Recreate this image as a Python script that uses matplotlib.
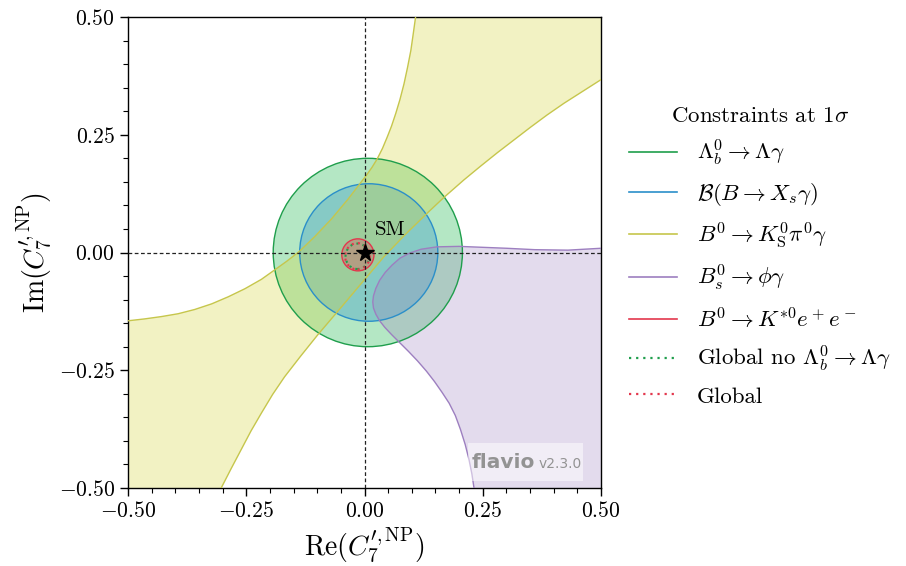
import matplotlib
matplotlib.use("Agg")
import matplotlib.pyplot as plt
from matplotlib.patches import Ellipse, Rectangle
from matplotlib.lines import Line2D
from matplotlib import ticker

plt.rcParams['font.family'] = 'serif'
plt.rcParams['font.serif'] = ['cmr10']
plt.rcParams['mathtext.fontset'] = 'cm'
plt.rcParams['axes.formatter.use_mathtext'] = True

# ---------------- data ----------------
# circular / elliptic 1-sigma regions: (x centre, y centre, x radius, y radius)
lambda_b_region = (0.007, 0.0, 0.200, 0.200)
bxsg_region = (0.009, 0.0, 0.146, 0.146)
bkee_region = (-0.014, -0.005, 0.034, 0.034)
global_nolb_region = (-0.015, -0.008, 0.025, 0.027)
global_region = (-0.015, -0.008, 0.026, 0.028)

# B0 -> KS pi0 gamma : two boundary curves of the band
ks_upper_x = [0.108, 0.103, 0.098, 0.091, 0.0835, 0.075, 0.066, 0.057, 0.048, 0.038, 0.027,
              0.016, 0.004, -0.035, -0.070, -0.105, -0.138, -0.165, -0.190, -0.218, -0.253,
              -0.288, -0.323, -0.359, -0.394, -0.429, -0.465, -0.5]
ks_upper_y = [0.5, 0.464, 0.429, 0.393, 0.358, 0.325, 0.295, 0.268, 0.245, 0.221, 0.199,
              0.181, 0.164, 0.113, 0.071, 0.034, 0.002, -0.019, -0.037, -0.057, -0.077,
              -0.094, -0.109, -0.121, -0.130, -0.136, -0.141, -0.145]
ks_lower_x = [-0.303, -0.282, -0.261, -0.240, -0.218, -0.194, -0.169, -0.135, -0.099, -0.060,
              -0.007, 0.041, 0.084, 0.133, 0.168, 0.210, 0.245, 0.281, 0.316, 0.351, 0.386,
              0.422, 0.461, 0.5]
ks_lower_y = [-0.5, -0.459, -0.419, -0.379, -0.341, -0.301, -0.264, -0.220, -0.175, -0.129,
              -0.066, -0.009, 0.036, 0.084, 0.117, 0.154, 0.183, 0.212, 0.239, 0.266, 0.292,
              0.317, 0.342, 0.367]

# Bs -> phi gamma : boundary curve of the region (right part is filled to the frame)
phi_x = [0.5, 0.43, 0.36, 0.30, 0.25, 0.20, 0.153, 0.12, 0.096, 0.075, 0.058, 0.044, 0.032,
         0.024, 0.019, 0.0175, 0.019, 0.024, 0.032, 0.043, 0.057, 0.074, 0.093, 0.112, 0.131,
         0.148, 0.164, 0.179, 0.192, 0.203, 0.213, 0.221, 0.227, 0.2315]
phi_y = [0.009, 0.005, 0.006, 0.009, 0.011, 0.013, 0.012, 0.007, -0.001, -0.012, -0.027,
         -0.042, -0.059, -0.076, -0.092, -0.105, -0.118, -0.131, -0.145, -0.159, -0.174,
         -0.191, -0.210, -0.230, -0.252, -0.274, -0.297, -0.320, -0.346, -0.376, -0.408,
         -0.440, -0.470, -0.5]

sm_point = (0.0, 0.0)
xlim = (-0.5, 0.5)
ylim = (-0.5, 0.5)
xticks = [-0.5, -0.25, 0.0, 0.25, 0.5]
yticks = [-0.5, -0.25, 0.0, 0.25, 0.5]

labels = [r'$\Lambda_b^0\to\Lambda\gamma$',
          r'$\mathcal{B}(B\to X_s\gamma)$',
          r'$B^0\to K_\mathrm{S}^0\pi^0\gamma$',
          r'$B_s^0\to\phi\gamma$',
          r'$B^0\to K^{*0}e^+e^-$',
          r'Global no $\Lambda_b^0\to\Lambda\gamma$',
          r'Global']

# ---------------- styling ----------------
c_green = '#1f9e4c'
c_green_fill = '#1cb94c'
c_blue = '#2b8fc9'
c_yellow = '#c6c64c'
c_yellow_fill = '#d4d43a'
c_purple = '#9d7fc0'
c_red = '#e3374d'

fig = plt.figure(figsize=(9.06, 5.66), dpi=100)
ax = fig.add_axes([128 / 906, (566 - 488) / 566, 473 / 906, 471 / 566])
ax.set_xlim(*xlim)
ax.set_ylim(*ylim)

def ellipse(reg, fc, ec, alpha, ls='-', lw=1.0, z=2):
    cx, cy, rx, ry = reg
    if fc is not None:
        ax.add_patch(Ellipse((cx, cy), 2 * rx, 2 * ry, facecolor=fc, edgecolor='none',
                             alpha=alpha, zorder=z))
    ax.add_patch(Ellipse((cx, cy), 2 * rx, 2 * ry, facecolor='none', edgecolor=ec,
                         lw=lw, ls=ls, zorder=z + 0.5))

# Lambda_b
ellipse(lambda_b_region, c_green_fill, c_green, 0.33, z=2)
# B -> Xs gamma
ellipse(bxsg_region, c_blue, c_blue, 0.33, z=2.1)

# KS pi0 gamma band polygon
poly_x = ks_upper_x + [xlim[0]] + ks_lower_x + [xlim[1], ks_upper_x[0]]
poly_y = ks_upper_y + [ylim[0]] + ks_lower_y + [ylim[1], ylim[1]]
ax.fill(poly_x, poly_y, facecolor=c_yellow_fill, edgecolor='none', alpha=0.3, zorder=2.2)
ax.plot(ks_upper_x, ks_upper_y, color=c_yellow, lw=1.0, zorder=2.7)
ax.plot(ks_lower_x, ks_lower_y, color=c_yellow, lw=1.0, zorder=2.7)

# Bs -> phi gamma
px = phi_x + [xlim[1]]
py = phi_y + [ylim[0]]
ax.fill(px, py, facecolor=c_purple, edgecolor='none', alpha=0.28, zorder=2.3)
ax.plot(phi_x, phi_y, color=c_purple, lw=1.0, zorder=2.8)

# B -> K* e e
ellipse(bkee_region, c_red, c_red, 0.3, z=2.4)
# global fits
ellipse(global_nolb_region, None, c_green, 1, ls=(0, (1, 2)), lw=1.5, z=3)
ellipse(global_region, None, c_red, 1, ls=(0, (1, 2)), lw=1.5, z=3.1)

ax.axhline(0, color='#222222', ls=(0, (3, 2)), lw=0.9, zorder=4)
ax.axvline(0, color='#222222', ls=(0, (3, 2)), lw=0.9, zorder=4)
ax.plot(*sm_point, marker='*', color='k', markersize=13, zorder=5)
ax.text(0.021, 0.038, 'SM', fontsize=15, zorder=5)

ax.set_xticks(xticks)
ax.set_yticks(yticks)
fmt = ticker.FuncFormatter(lambda v, p: '$%.2f$' % v)
ax.xaxis.set_major_formatter(fmt)
ax.yaxis.set_major_formatter(fmt)
ax.xaxis.set_minor_locator(ticker.MultipleLocator(0.05))
ax.yaxis.set_minor_locator(ticker.MultipleLocator(0.05))
ax.tick_params(which='major', direction='out', length=6, width=1, labelsize=15.5)
ax.tick_params(which='minor', direction='out', length=3.5, width=0.8)
for s in ax.spines.values():
    s.set_linewidth(1.0)

ax.set_xlabel(r'$\mathrm{Re}(C_7^{\prime,\mathrm{NP}})$', fontsize=20, labelpad=3)
ax.set_ylabel(r'$\mathrm{Im}(C_7^{\prime,\mathrm{NP}})$', fontsize=20, labelpad=4)

# flavio branding
ax.add_patch(Rectangle((0.719, 0.015), 0.243, 0.081, transform=ax.transAxes,
                       facecolor='white', edgecolor='none', alpha=0.5, zorder=6))
ax.text(0.727, 0.054, 'flavio', transform=ax.transAxes, fontsize=14.5, fontweight='bold',
        family='DejaVu Sans', color='#939393', va='center', zorder=7)
ax.text(0.867, 0.050, 'v2.3.0', transform=ax.transAxes, fontsize=10,
        family='DejaVu Sans', color='#939393', va='center', zorder=7)

handles = [Line2D([], [], color=c_green, lw=1.2),
           Line2D([], [], color=c_blue, lw=1.2),
           Line2D([], [], color=c_yellow, lw=1.2),
           Line2D([], [], color=c_purple, lw=1.2),
           Line2D([], [], color=c_red, lw=1.2),
           Line2D([], [], color=c_green, lw=1.6, ls=(0, (1, 2.2))),
           Line2D([], [], color=c_red, lw=1.6, ls=(0, (1, 2.2)))]
leg = fig.legend(handles, labels, loc='upper left', bbox_to_anchor=(629 / 906, 1 - 106 / 566),
                 frameon=False, fontsize=16.5, title=r'Constraints at $1\sigma$',
                 title_fontsize=16.5, handlelength=2.1, handletextpad=0.87, labelspacing=0.55,
                 borderpad=0, borderaxespad=0)

fig.savefig('out.png', dpi=100)
